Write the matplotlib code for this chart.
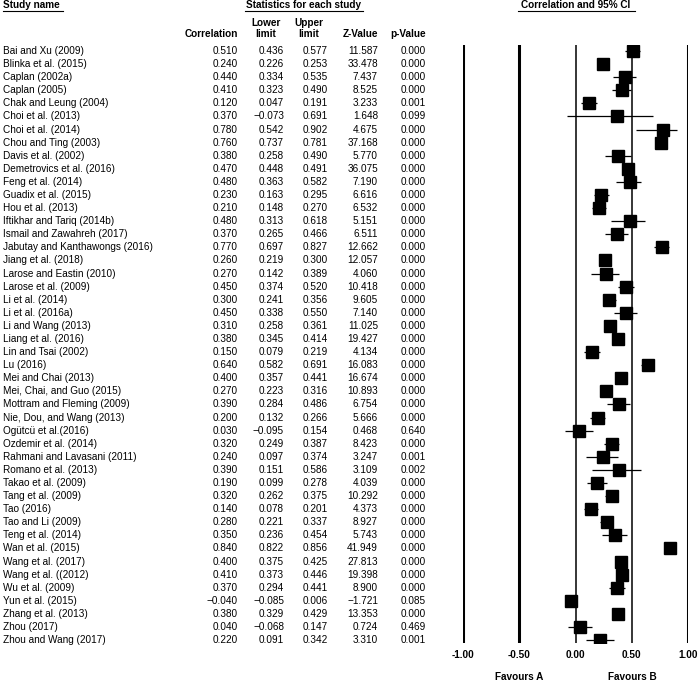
import matplotlib.pyplot as plt
import matplotlib.transforms as mtransforms
from matplotlib.lines import Line2D

plt.rcParams['font.family'] = ['Liberation Sans', 'DejaVu Sans']

studies = [
    "Bai and Xu (2009)", "Blinka et al. (2015)", "Caplan (2002a)", "Caplan (2005)",
    "Chak and Leung (2004)", "Choi et al. (2013)", "Choi et al. (2014)",
    "Chou and Ting (2003)", "Davis et al. (2002)", "Demetrovics et al. (2016)",
    "Feng et al. (2014)", "Guadix et al. (2015)", "Hou et al. (2013)",
    "Iftikhar and Tariq (2014b)", "Ismail and Zawahreh (2017)",
    "Jabutay and Kanthawongs (2016)", "Jiang et al. (2018)", "Larose and Eastin (2010)",
    "Larose et al. (2009)", "Li et al. (2014)", "Li et al. (2016a)", "Li and Wang (2013)",
    "Liang et al. (2016)", "Lin and Tsai (2002)", "Lu (2016)", "Mei and Chai (2013)",
    "Mei, Chai, and Guo (2015)", "Mottram and Fleming (2009)", "Nie, Dou, and Wang (2013)",
    "Ogütcü et al.(2016)", "Ozdemir et al. (2014)", "Rahmani and Lavasani (2011)",
    "Romano et al. (2013)", "Takao et al. (2009)", "Tang et al. (2009)", "Tao (2016)",
    "Tao and Li (2009)", "Teng et al. (2014)", "Wan et al. (2015)", "Wang et al. (2017)",
    "Wang et al. ((2012)", "Wu et al. (2009)", "Yun et al. (2015)", "Zhang et al. (2013)",
    "Zhou (2017)", "Zhou and Wang (2017)",
]
corr = [0.510, 0.240, 0.440, 0.410, 0.120, 0.370, 0.780, 0.760, 0.380, 0.470,
        0.480, 0.230, 0.210, 0.480, 0.370, 0.770, 0.260, 0.270, 0.450, 0.300,
        0.450, 0.310, 0.380, 0.150, 0.640, 0.400, 0.270, 0.390, 0.200, 0.030,
        0.320, 0.240, 0.390, 0.190, 0.320, 0.140, 0.280, 0.350, 0.840, 0.400,
        0.410, 0.370, -0.040, 0.380, 0.040, 0.220]
lower = [0.436, 0.226, 0.334, 0.323, 0.047, -0.073, 0.542, 0.737, 0.258, 0.448,
         0.363, 0.163, 0.148, 0.313, 0.265, 0.697, 0.219, 0.142, 0.374, 0.241,
         0.338, 0.258, 0.345, 0.079, 0.582, 0.357, 0.223, 0.284, 0.132, -0.095,
         0.249, 0.097, 0.151, 0.099, 0.262, 0.078, 0.221, 0.236, 0.822, 0.375,
         0.373, 0.294, -0.085, 0.329, -0.068, 0.091]
upper = [0.577, 0.253, 0.535, 0.490, 0.191, 0.691, 0.902, 0.781, 0.490, 0.491,
         0.582, 0.295, 0.270, 0.618, 0.466, 0.827, 0.300, 0.389, 0.520, 0.356,
         0.550, 0.361, 0.414, 0.219, 0.691, 0.441, 0.316, 0.486, 0.266, 0.154,
         0.387, 0.374, 0.586, 0.278, 0.375, 0.201, 0.337, 0.454, 0.856, 0.425,
         0.446, 0.441, 0.006, 0.429, 0.147, 0.342]
zval = [11.587, 33.478, 7.437, 8.525, 3.233, 1.648, 4.675, 37.168, 5.770, 36.075,
        7.190, 6.616, 6.532, 5.151, 6.511, 12.662, 12.057, 4.060, 10.418, 9.605,
        7.140, 11.025, 19.427, 4.134, 16.083, 16.674, 10.893, 6.754, 5.666, 0.468,
        8.423, 3.247, 3.109, 4.039, 10.292, 4.373, 8.927, 5.743, 41.949, 27.813,
        19.398, 8.900, -1.721, 13.353, 0.724, 3.310]
pval = [0.000, 0.000, 0.000, 0.000, 0.001, 0.099, 0.000, 0.000, 0.000, 0.000,
        0.000, 0.000, 0.000, 0.000, 0.000, 0.000, 0.000, 0.000, 0.000, 0.000,
        0.000, 0.000, 0.000, 0.000, 0.000, 0.000, 0.000, 0.000, 0.000, 0.640,
        0.000, 0.001, 0.002, 0.000, 0.000, 0.000, 0.000, 0.000, 0.000, 0.000,
        0.000, 0.000, 0.085, 0.000, 0.469, 0.001]
ticks = [-1.0, -0.5, 0.0, 0.5, 1.0]

W, H = 700, 683
fig = plt.figure(figsize=(7, 6.83), dpi=100)

# forest plot panel
ax = fig.add_axes([463 / W, 1 - 643 / H, 225 / W, 598 / H])
n = len(studies)
rows = list(range(n))
ax.set_xlim(-1, 1)
ax.set_ylim(n - 0.78, -0.46)
for t in ticks:
    ax.axvline(t, color='black', lw=2.2 if t in (-1.0, -0.5, 1.0) else 1.1)
ax.hlines(rows, lower, upper, color='black', lw=0.9)
ax.plot(corr, rows, 's', color='black', markersize=8.5)
ax.axis('off')

tr = mtransforms.blended_transform_factory(fig.transFigure, ax.transData)
fs = 7.2
cols_x = [238, 284, 328, 378, 426]
for i in rows:
    ax.text(3 / W, i, studies[i], transform=tr, fontsize=fs, va='center', ha='left')
    vals = [corr[i], lower[i], upper[i], zval[i], pval[i]]
    for x, v in zip(cols_x, vals):
        s = f"{v:.3f}".replace('-', '\u2212')
        ax.text(x / W, i, s, transform=tr, fontsize=fs, va='center', ha='right')

# tick labels and favours
for t in ticks:
    fig.text((463 + (t + 1) * 112.5) / W, 1 - 655 / H, f"{t:.2f}",
             fontsize=fs, fontweight='bold', ha='center', va='center')
fig.text(519 / W, 1 - 677 / H, "Favours A", fontsize=fs, fontweight='bold',
         ha='center', va='center')
fig.text(632 / W, 1 - 677 / H, "Favours B", fontsize=fs, fontweight='bold',
         ha='center', va='center')

# headers
def header(x, y, s, ha='left', ul=None):
    fig.text(x / W, 1 - y / H, s, fontsize=fs, fontweight='bold', ha=ha, va='center')
    if ul:
        fig.add_artist(Line2D([ul[0] / W, ul[1] / W], [1 - 10.5 / H, 1 - 10.5 / H],
                              color='black', lw=0.8))

header(3, 5, "Study name", ul=(3, 63))
header(304, 5, "Statistics for each study", ha='center', ul=(245, 363))
header(576, 5, "Correlation and 95% CI", ha='center', ul=(518, 635))
header(238, 34, "Correlation", ha='right')
header(266, 23, "Lower", ha='center')
header(266, 34, "limit", ha='center')
header(309, 23, "Upper", ha='center')
header(309, 34, "limit", ha='center')
header(378, 34, "Z-Value", ha='right')
header(426, 34, "p-Value", ha='right')

fig.savefig("out.png", dpi=100)
